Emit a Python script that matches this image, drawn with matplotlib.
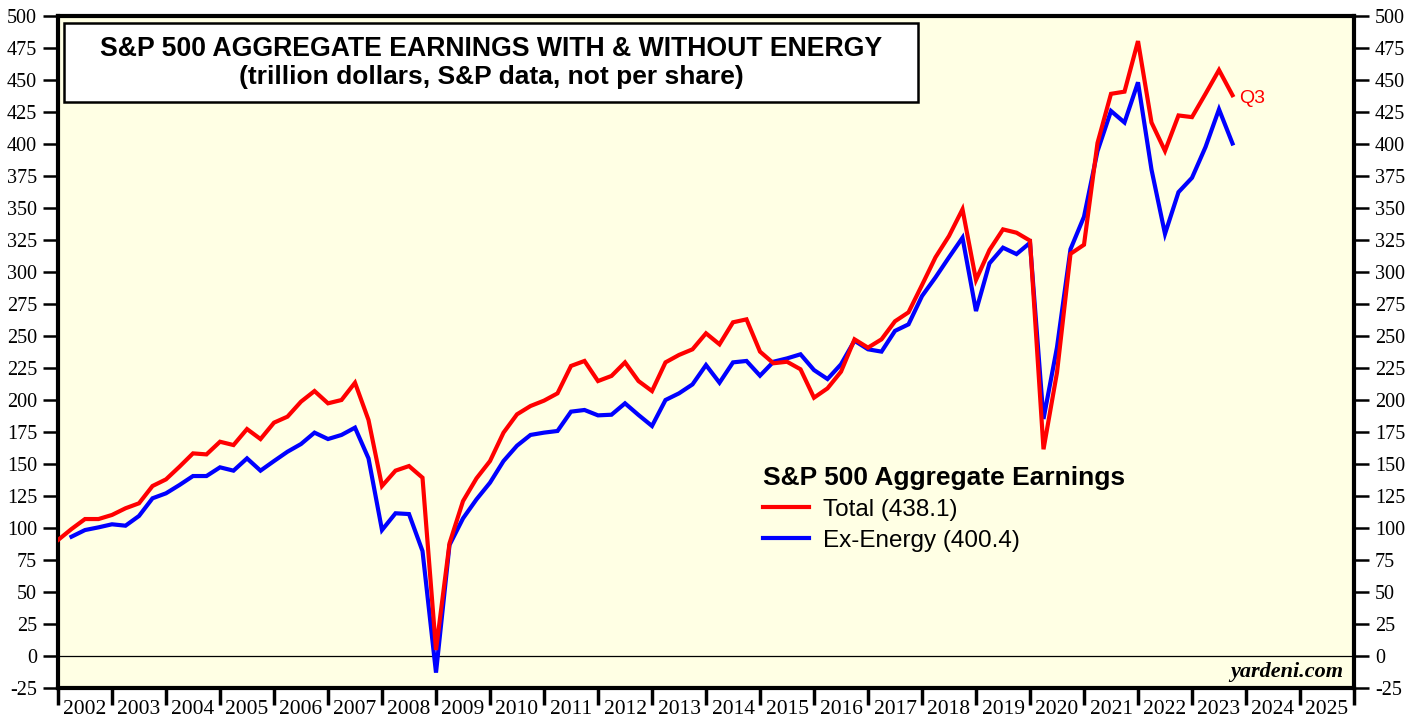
import matplotlib
matplotlib.use("Agg")
import matplotlib.pyplot as plt
from matplotlib.patches import Rectangle
import numpy as np
import pandas as pd

# ---------------- data ----------------
total_start = "2001Q4"
total_end = "2023Q3"
total = [90.6, 99.2, 107.0, 107.0, 110.2, 115.4, 119.3, 132.8, 138.0, 147.9,
         158.3, 157.5, 167.4, 164.8, 177.3, 169.5, 182.3, 187.0, 198.7, 207.0,
         197.4, 200.0, 213.5, 184.4, 132.8, 144.8, 148.4, 139.3, 4.7, 88.0,
         121.0, 138.8, 152.3, 174.5, 188.8, 195.3, 199.5, 205.2, 226.6, 230.5,
         214.8, 218.8, 229.4, 214.8, 207.0, 229.4, 235.2, 239.6, 252.1, 243.5,
         260.7, 263.0, 237.8, 228.7, 229.9, 224.0, 201.8, 209.1, 222.1, 247.4,
         240.9, 247.4, 261.5, 268.5, 289.8, 311.5, 328.1, 349.0, 293.8, 317.2,
         333.3, 330.7, 324.5, 161.5, 221.5, 314.2, 321.3, 400.8, 439.2, 440.9,
         480.4, 416.8, 394.6, 422.3, 421.0, 439.2, 457.8, 438.1]

ex_start = "2002Q1"
ex_end = "2023Q3"
ex_energy = [93.2, 98.4, 100.5, 102.9, 101.8, 109.4, 123.2, 127.1, 133.6, 140.6,
             140.6, 147.4, 144.8, 154.4, 144.8, 152.3, 159.6, 165.6, 174.5, 169.5,
             172.7, 178.4, 154.4, 98.4, 111.5, 110.9, 82.0, -13.0, 86.7, 107.5,
             122.4, 135.4, 152.3, 164.3, 172.7, 174.5, 175.8, 190.9, 192.2, 188.0,
             188.5, 197.4, 188.3, 179.7, 200.0, 205.2, 212.2, 227.3, 213.5, 229.4,
             230.5, 219.0, 229.9, 232.5, 235.7, 223.4, 216.4, 227.9, 246.3, 239.6,
             237.8, 254.0, 259.1, 281.2, 295.8, 311.5, 326.8, 269.5, 306.8, 319.0,
             314.0, 322.8, 185.2, 241.2, 317.8, 343.2, 394.4, 425.8, 416.8, 448.2,
             380.0, 329.8, 362.4, 373.6, 397.6, 427.1, 400.4]

years = list(range(2002, 2026))
yticks = list(range(-25, 501, 25))

title_line1 = "S&P 500 AGGREGATE EARNINGS WITH & WITHOUT ENERGY"
title_line2 = "(trillion dollars, S&P data, not per share)"
legend_title = "S&P 500 Aggregate Earnings"
label_total = "Total (438.1)"
label_ex = "Ex-Energy (400.4)"
last_label = "Q3"
source = "yardeni.com"


def quarter_x(start, end):
    per = pd.period_range(start, end, freq="Q")
    # plotted at end of quarter
    return np.array([p.year + p.quarter / 4.0 for p in per])


x_total = quarter_x(total_start, total_end)
x_ex = quarter_x(ex_start, ex_end)

# ---------------- figure ----------------
W, H = 1419, 719
fig = plt.figure(figsize=(W / 100, H / 100), dpi=100)
fig.patch.set_facecolor("white")
ax = fig.add_axes([58 / W, (H - 688) / H, (1354 - 58) / W, 672 / H])
ax.set_facecolor("#FFFFE4")

ax.plot(x_total, total, color="#FF0000", lw=3.0, solid_joinstyle="miter", zorder=4, label=label_total)
ax.plot(x_ex, ex_energy, color="#0000FF", lw=3.0, solid_joinstyle="miter", zorder=3, label=label_ex)
ax.axhline(0, color="black", lw=0.9, zorder=2)

ax.set_xlim(years[0], years[-1] + 1)
ax.set_ylim(-25, 500)

# spines
for s in ax.spines.values():
    s.set_linewidth(3)
    s.set_color("black")

serif = "Liberation Serif"
sans = "Liberation Sans"

# y ticks
ax.set_yticks(yticks)
ax.set_yticklabels([str(v) for v in yticks], fontfamily=serif, fontsize=14.5)
ax.tick_params(axis="y", which="major", direction="out", length=11, width=1.8,
               pad=4, left=True, right=True, labelleft=True, labelright=True,
               labelsize=14.5)

# x ticks: year boundaries as ticks, labels centered in between
ax.set_xticks(years + [years[-1] + 1])
ax.set_xticklabels([])
ax.set_xticks([y + 0.5 for y in years], minor=True)
ax.set_xticklabels([str(y) for y in years], minor=True, fontfamily=serif, fontsize=15.5)
ax.tick_params(axis="x", which="major", direction="out", length=12, width=2.5)
ax.tick_params(axis="x", which="minor", length=0, pad=9)

# title box
ax.add_patch(Rectangle(((64 - 58) / 1296, (688 - 102) / 672), (918 - 64) / 1296, (102 - 23) / 672,
                       transform=ax.transAxes, facecolor="white", edgecolor="black",
                       lw=1.8, zorder=6))
ax.text((491 - 58) / 1296, (688 - 49) / 672, title_line1, transform=ax.transAxes,
        ha="center", va="center", fontfamily=sans, fontweight="bold", fontsize=19.2, zorder=7)
ax.text((491 - 58) / 1296, (688 - 77) / 672, title_line2, transform=ax.transAxes,
        ha="center", va="center", fontfamily=sans, fontweight="bold", fontsize=19, zorder=7)

# legend
leg = ax.legend(loc="upper left", bbox_to_anchor=((763 - 58) / 1296, (688 - 466) / 672),
                frameon=False, title=legend_title,
                prop={"family": sans, "size": 17.5},
                title_fontproperties={"family": sans, "weight": "bold", "size": 19},
                handlelength=1.9, handletextpad=0.58, labelspacing=0.36, borderpad=0.0,
                borderaxespad=0.0)
leg._legend_box.align = "left"
for line in leg.get_lines():
    line.set_linewidth(3)

# last point label
ax.annotate(last_label, xy=(x_total[-1], total[-1]), xytext=(5, -2), textcoords="offset points",
            ha="left", va="center", color="#FF0000", fontfamily=sans, fontsize=14)

# source
ax.text((1343 - 58) / 1296, (688 - 672) / 672, source, transform=ax.transAxes,
        ha="right", va="center", fontfamily=serif, fontweight="bold", fontstyle="italic",
        fontsize=16)

fig.savefig("out.png", dpi=100)
